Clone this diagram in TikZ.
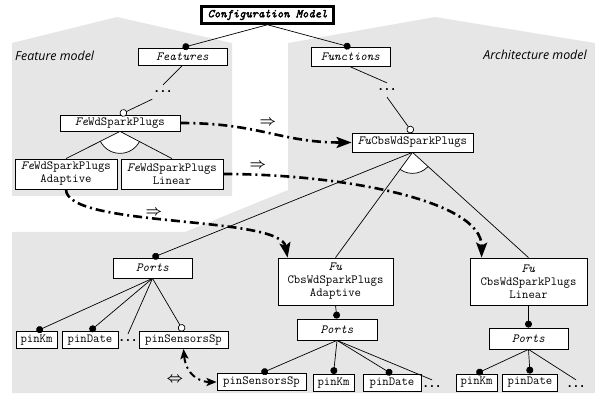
\documentclass[tikz,border=0pt]{standalone}
\usepackage{fontspec}
\newfontfamily\labelfont{Open Sans}
\newfontfamily\ttheavy{lmmono10-regular.otf}[ItalicFont=lmmono10-italic.otf, FakeBold=2.5]
\newfontfamily\dotfont{DejaVu Sans Mono}
\usetikzlibrary{arrows.meta,calc}
\definecolor{regiongray}{RGB}{230,230,230}
\tikzset{
  box/.style={draw, line width=0.8pt, fill=white, font=\ttfamily\fontsize{12.4}{13}\selectfont, inner sep=1pt, align=center},
  conn/.style={line width=0.7pt},
  dotend/.style={conn, -{Circle[length=7pt]}},
  odotend/.style={conn, -{Circle[open, length=7.5pt, fill=white]}},
  ellip/.style={font=\dotfont\bfseries\fontsize{10.5}{12}\selectfont, inner xsep=1pt, inner ysep=6pt},
  depend/.style={line width=2.6pt, dash pattern=on 9pt off 4pt on 2pt off 4pt, -{Stealth[length=15pt,width=11pt,inset=3pt]}},
  dependboth/.style={line width=2pt, dash pattern=on 7pt off 4pt on 2pt off 4pt, {Stealth[length=10pt,width=8pt,inset=2pt]}-{Stealth[length=10pt,width=8pt,inset=2pt]}},
  sym/.style={font=\fontsize{14.4}{16}\selectfont\boldmath, inner sep=0pt},
  modellabel/.style={font=\labelfont\itshape\fontsize{12.4}{14}\selectfont, inner sep=0pt},
  region/.style={fill=regiongray, draw=none}
}
\begin{document}
\begin{tikzpicture}[x=1pt,y=-1pt]
\useasboundingbox (0,0) rectangle (595,398);
% regions
\path[region] (12,43) -- (117,17) -- (232,43) -- (232,196) -- (12,196) -- cycle;
\path[region] (288,43) -- (435,17) -- (595,43) -- (595,393) -- (12,393) -- (12,232) -- (185,232) -- (288,190) -- cycle;
\node[modellabel, anchor=west] (fmlabel) at (15,56) {Feature model};
\node[modellabel] (amlabel) at (535,55) {Architecture model};
% nodes
\node[box, minimum width=132pt, minimum height=17pt, line width=2.5pt, font=\ttheavy\itshape\fontsize{12}{13}\selectfont] (cfg) at (267.5,15) {Configuration Model};
\node[box, minimum width=89pt, minimum height=17pt] (features) at (182.5,56.5) {\itshape Features};
\node[box, minimum width=79pt, minimum height=19pt] (functions) at (350.5,57) {\itshape Functions};
\node[ellip] (fedots) at (163,92) {...};
\node[ellip] (fudots) at (387,90) {...};
\node[box, minimum width=120pt, minimum height=16pt] (feWd) at (120,123) {\textit{Fe}WdSparkPlugs};
\node[box, minimum width=102pt, minimum height=30pt] (feA) at (66,174) {\textit{Fe}WdSparkPlugs\\Adaptive};
\node[box, minimum width=102pt, minimum height=30pt] (feL) at (172,174) {\textit{Fe}WdSparkPlugs\\Linear};
\node[box, minimum width=121pt, minimum height=19pt] (fuCbs) at (412.5,142.5) {\textit{Fu}CbsWdSparkPlugs};
\node[box, minimum width=79pt, minimum height=20pt] (portsL) at (152.5,268) {\itshape Ports};
\node[box, minimum width=115pt, minimum height=47pt] (fuA) at (335.5,281.5) {\textit{Fu}\\CbsWdSparkPlugs\\Adaptive};
\node[box, minimum width=117pt, minimum height=47pt] (fuL) at (528.5,281.5) {\textit{Fu}\\CbsWdSparkPlugs\\Linear};
\node[box, minimum width=80pt, minimum height=21pt] (portsA) at (337,329.5) {\itshape Ports};
\node[box, minimum width=79pt, minimum height=21pt] (portsLin) at (528.5,338.5) {\itshape Ports};
\node[box, minimum width=41pt, minimum height=17pt] (pinKmOne) at (36.5,340) {pinKm};
\node[box, minimum width=56pt, minimum height=17pt] (pinDateOne) at (90,340) {pinDate};
\node[ellip] (dotsOne) at (128,341) {...};
\node[box, minimum width=89pt, minimum height=17pt] (pinSensOne) at (183.5,340) {pinSensorsSp};
\node[box, minimum width=89pt, minimum height=17pt] (pinSensTwo) at (261.5,382) {pinSensorsSp};
\node[box, minimum width=41pt, minimum height=17pt] (pinKmTwo) at (333.5,383) {pinKm};
\node[box, minimum width=58pt, minimum height=17pt] (pinDateTwo) at (392,383) {pinDate};
\node[ellip] (dotsTwo) at (432,387) {...};
\node[box, minimum width=41pt, minimum height=17pt] (pinKmThree) at (476.5,382.5) {pinKm};
\node[box, minimum width=55pt, minimum height=17pt] (pinDateThree) at (530,382.5) {pinDate};
\node[ellip] (dotsThree) at (576,387) {...};
% connectors
\draw[dotend] (cfg.south) -- (features.north);
\draw[dotend] (cfg.south) -- (functions.north);
\draw[conn] (features.south) -- (fedots.north);
\draw[odotend] (fedots.south west) -- (feWd.north);
\draw[conn] (functions.south) -- (fudots.north);
\draw[odotend] (fudots.south) -- (fuCbs.north);
% alternative sectors
\begin{scope}
\clip (feWd.south) -- (feA.north) -- (feL.north) -- cycle;
\draw[conn, fill=white] (feWd.south) circle (22pt);
\end{scope}
\draw[conn] (feWd.south) -- (feA.north);
\draw[conn] (feWd.south) -- (feL.north);
\begin{scope}
\clip (fuCbs.south) -- (fuA.north) -- (fuL.north) -- cycle;
\draw[conn, fill=white] (fuCbs.south) circle (21pt);
\end{scope}
\draw[conn] (fuCbs.south) -- (fuA.north);
\draw[conn] (fuCbs.south) -- (fuL.north);
\draw[dotend] (fuCbs.south) -- (portsL.north);
\draw[dotend] (fuA.south) -- (portsA.north);
\draw[dotend] (fuL.south) -- (portsLin.north);
% ports left
\draw[dotend] (portsL.south) -- (pinKmOne.north);
\draw[dotend] (portsL.south) -- (pinDateOne.north);
\draw[conn] (portsL.south) -- (dotsOne.north);
\draw[odotend] (portsL.south) -- (pinSensOne.north);
% ports adaptive
\draw[dotend] (portsA.south) -- (pinSensTwo.north);
\draw[dotend] (portsA.south) -- (pinKmTwo.north);
\draw[dotend] (portsA.south) -- (pinDateTwo.north);
\draw[conn] (portsA.south) -- (dotsTwo.north);
% ports linear
\draw[dotend] (portsLin.south) -- (pinKmThree.north);
\draw[dotend] (portsLin.south) -- (pinDateThree.north);
\draw[conn] (portsLin.south) -- (dotsThree.north);
% dependencies
\coordinate (fuLtop) at ($(fuL.north west)+(12,0)$);
\coordinate (fuAtop) at ($(fuA.north west)+(10,0)$);
\draw[depend] (feWd.east) .. controls (260,123) and (280,142.5) .. (fuCbs.west);
\draw[depend] (feL.east) .. controls (340,174) and (482,200) .. (fuLtop);
\draw[depend] (feA.south) .. controls (66,228) and (280,215) .. (fuAtop);
\draw[dependboth] (pinSensOne.south) .. controls (186,375) and (200,382) .. (pinSensTwo.west);
\node[sym] (sA) at (268,123) {$\Rightarrow$};
\node[sym] (sB) at (258,166) {$\Rightarrow$};
\node[sym] (sC) at (154,213) {$\Rightarrow$};
\node[sym] (sD) at (175,380) {$\Leftrightarrow$};
\end{tikzpicture}
\end{document}
